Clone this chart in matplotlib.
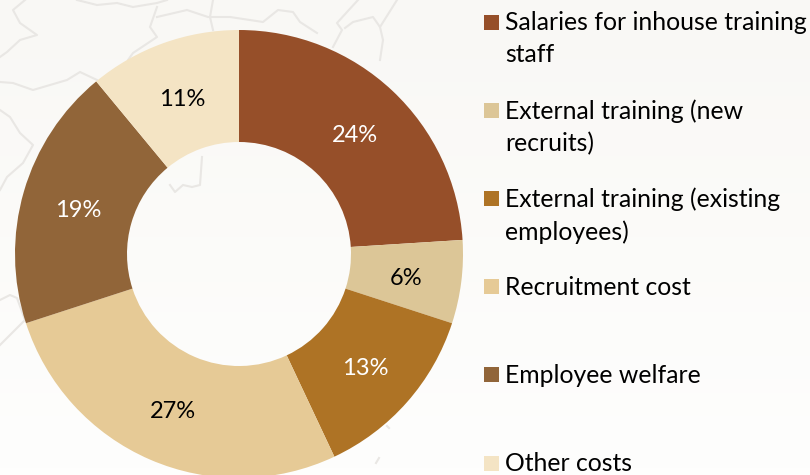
import numpy as np
import matplotlib
matplotlib.use('Agg')
import matplotlib.pyplot as plt
from matplotlib.patches import Rectangle

plt.rcParams['font.family'] = ['Lato', 'DejaVu Sans']

labels = ['Salaries for inhouse training\nstaff', 'External training (new\nrecruits)',
          'External training (existing\nemployees)', 'Recruitment cost',
          'Employee welfare', 'Other costs']
values = [24, 6, 13, 27, 19, 11]
colors = ['#964F29', '#DCC697', '#AE7325', '#E6CA96', '#916539', '#F4E4C4']
pct_colors = ['white', 'black', 'white', 'black', 'white', 'black']

# faint map outlines in the background picture, in pixels
map_lines = [
    ([0, 13, 33, 50, 67, 80, 97], [82, 83, 90, 85, 80, 72, 80]),
    ([25, 13, 20, 37, 20, 7, 0], [0, 10, 23, 35, 40, 52, 57]),
    ([0, 10, 20, 33, 23, 7, 0], [110, 117, 133, 145, 163, 177, 190]),
    ([77, 97, 117, 133, 157, 167], [0, 5, 3, 7, 3, 0]),
    ([157, 150, 157, 133, 128], [7, 27, 37, 53, 60]),
    ([213, 210, 213], [0, 17, 30]),
    ([157, 187, 208, 230, 263, 278, 293, 300, 317], [17, 10, 17, 17, 22, 10, 12, 22, 33]),
    ([358, 347, 337, 342, 333], [0, 12, 23, 30, 47]),
    ([345, 353, 373, 380, 397], [28, 22, 17, 27, 0]),
    ([380, 383, 380], [27, 40, 60]),
    ([170, 175, 183, 192, 200, 202], [185, 192, 185, 187, 185, 157]),
    ([0, 10, 17, 25, 0], [300, 295, 298, 320, 345]),
    ([376, 379], [463, 458]),
    ([387, 389], [426, 428]),
]

W, H = 810, 475

fig = plt.figure(figsize=(W / 100, H / 100), dpi=100)

back = fig.add_axes([0, 0, 1, 1])
back.set_xlim(0, W)
back.set_ylim(H, 0)
back.axis('off')
grad = np.linspace(0, 1, 64).reshape(-1, 1)
cmap = matplotlib.colors.LinearSegmentedColormap.from_list('bg', ['#F9F8F5', '#FEFEFD'])
back.imshow(grad, cmap=cmap, extent=[0, W, H, 0], aspect='auto', zorder=0)
for xs, ys in map_lines:
    back.plot(xs, ys, color='#E9E7E4', lw=1.5, solid_joinstyle='round', zorder=1)

# donut
cx, cy, r = 239, 254, 224
ax = fig.add_axes([(cx - r) / W, 1 - (cy + r) / H, 2 * r / W, 2 * r / H])
ax.patch.set_alpha(0)
wedges, texts, autotexts = ax.pie(values, colors=colors, startangle=90, counterclock=False,
                                  radius=1, wedgeprops={'width': 0.5, 'linewidth': 0},
                                  autopct='%d%%', pctdistance=0.75,
                                  textprops={'fontsize': 17})
for t, c in zip(autotexts, pct_colors):
    t.set_color(c)
    px, py = t.get_position()
    t.set_position((px + 0.002, py - 0.016))
ax.set_xlim(-1, 1)
ax.set_ylim(-1, 1)

# legend
for i, (lab, col) in enumerate(zip(labels, colors)):
    y = 22 + i * 88.2
    back.add_patch(Rectangle((484, y - 7.5), 15, 15, facecolor=col, edgecolor='none', zorder=3))
    back.text(505, y - 11, lab, fontsize=17.8, va='top', ha='left', color='black', linespacing=1.47)

fig.savefig('out.png', dpi=100)
